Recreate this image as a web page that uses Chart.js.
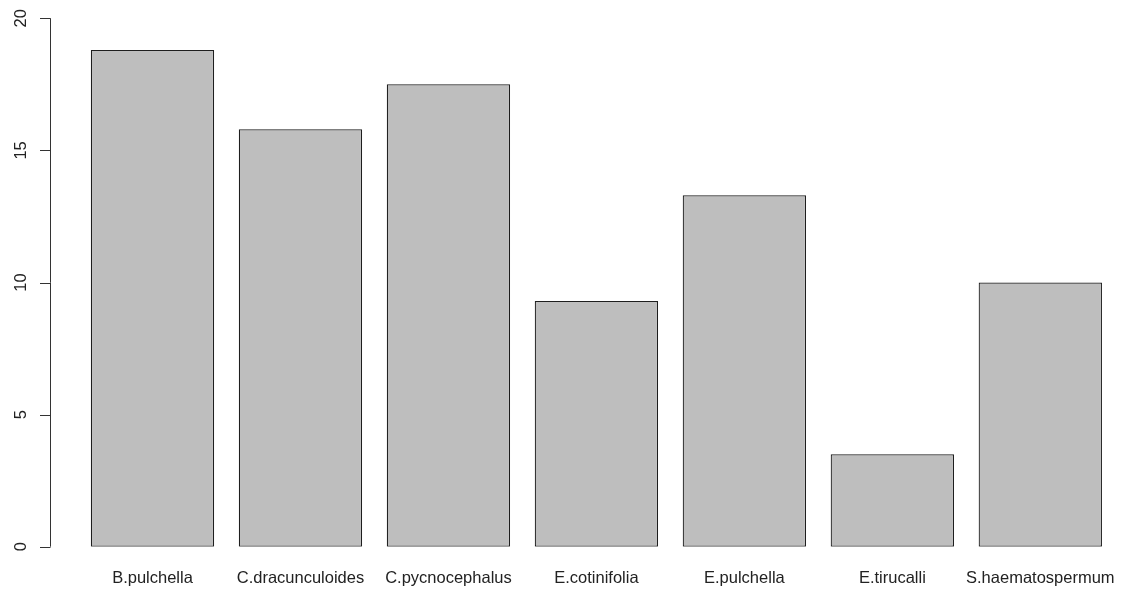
<!DOCTYPE html>
<html>
<head>
<meta charset="utf-8">
<title>Species bar chart</title>
<script src="https://cdn.jsdelivr.net/npm/chart.js@4.4.1/dist/chart.umd.min.js"></script>
<style>
  html, body { margin: 0; padding: 0; background: #ffffff; }
  #wrap { width: 1123px; height: 590px; position: relative; }
</style>
</head>
<body>
<div id="wrap"><canvas id="c" width="1123" height="590"></canvas></div>
<script>
// Species names along the x axis
const species = ["B.pulchella", "C.dracunculoides", "C.pycnocephalus", "E.cotinifolia", "E.pulchella", "E.tirucalli", "S.haematospermum"];
// Bar heights
const values = [18.8, 15.8, 17.5, 9.3, 13.3, 3.5, 10.0];
// Y axis ticks
const yTicks = [0, 5, 10, 15, 20];
const yMin = 0;
const yMax = 20;

const FONT = "Arial, 'Liberation Sans', Helvetica, sans-serif";

// Classic base-graphics style y axis: a line spanning the tick range, outward ticks, rotated labels
const leftAxis = {
  id: 'leftAxis',
  afterDraw(chart) {
    const y = chart.scales.y;
    const ctx = chart.ctx;
    const ax = 50.5;
    ctx.save();
    ctx.strokeStyle = '#333';
    ctx.lineWidth = 1;
    ctx.beginPath();
    ctx.moveTo(ax, y.getPixelForValue(yTicks[0]));
    ctx.lineTo(ax, y.getPixelForValue(yTicks[yTicks.length - 1]));
    yTicks.forEach(t => {
      const py = Math.round(y.getPixelForValue(t)) + 0.5;
      ctx.moveTo(ax, py);
      ctx.lineTo(ax - 10.5, py);
    });
    ctx.stroke();
    ctx.fillStyle = '#222';
    ctx.font = '16.5px ' + FONT;
    ctx.textAlign = 'center';
    ctx.textBaseline = 'middle';
    yTicks.forEach(t => {
      const py = y.getPixelForValue(t);
      ctx.save();
      ctx.translate(21, py);
      ctx.rotate(-Math.PI / 2);
      ctx.fillText(String(t), 0, 0);
      ctx.restore();
    });
    ctx.restore();
  }
};

new Chart(document.getElementById('c'), {
  type: 'bar',
  data: {
    labels: species,
    datasets: [{
      data: values,
      backgroundColor: '#bebebe',
      borderColor: '#1e1e1e',
      borderWidth: 1.2,
      borderSkipped: false,
      barPercentage: 1 / 1.2,
      categoryPercentage: 1
    }]
  },
  options: {
    responsive: false,
    animation: false,
    devicePixelRatio: 1,
    layout: { padding: { left: 78.5, right: 8.7, top: 18.3, bottom: 2 } },
    plugins: {
      legend: { display: false },
      tooltip: { enabled: false },
      title: { display: false }
    },
    scales: {
      x: {
        grid: { display: false, drawTicks: false },
        border: { display: false },
        ticks: {
          color: '#222',
          font: { family: FONT, size: 16.5 },
          padding: 22,
          maxRotation: 0,
          autoSkip: false
        },
        afterFit(scale) {
          scale.height = 41.3;
          scale.paddingLeft = 0;
          scale.paddingRight = 0;
        }
      },
      y: {
        display: false,
        min: yMin,
        max: yMax
      }
    }
  },
  plugins: [leftAxis]
});
</script>
</body>
</html>
